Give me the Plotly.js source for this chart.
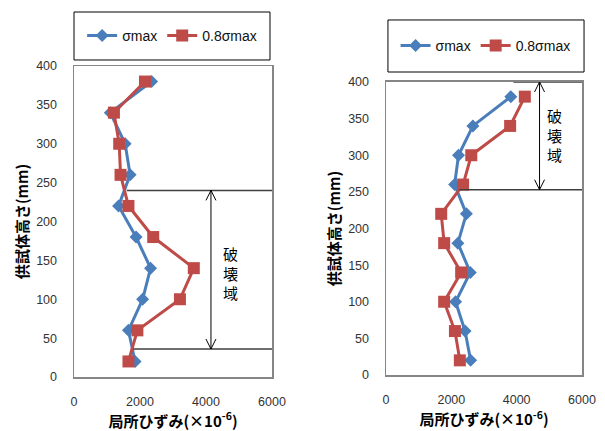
<!DOCTYPE html>
<html><head><meta charset="utf-8">
<script src="https://cdn.plot.ly/plotly-3.0.1.min.js"></script>
<style>html,body{margin:0;padding:0;background:#fff}</style>
</head><body><div id="chart" style="width:605px;height:431px"></div>
<script>
// ---- data ----
const heights = [20, 60, 100, 140, 180, 220, 260, 300, 340, 380];
const leftSigmaMax  = [1850, 1650, 2080, 2320, 1880, 1350, 1700, 1550, 1100, 2350];
const leftSigma08   = [1650, 1920, 3210, 3630, 2400, 1650, 1410, 1370, 1210, 2150];
const rightSigmaMax = [2590, 2420, 2130, 2580, 2200, 2460, 2100, 2220, 2660, 3820];
const rightSigma08  = [2260, 2110, 1780, 2300, 1780, 1690, 2360, 2610, 3800, 4250];
const seriesNames = ['σmax', '0.8σmax'];
const xTicks = [0, 2000, 4000, 6000];
const yTicks = [0, 50, 100, 150, 200, 250, 300, 350, 400];
const zoneLabel = '破壊域';
// failure zone markers (data units)
const leftZone  = {top: 240, bottom: 36,  topStart: 1600, bottomStart: 1800, arrowX: 4150, labelX: 4730, labelY: 134};
const rightZone = {top: 400, bottom: 253, topStart: 3900, bottomStart: 2250, arrowX: 4700, labelX: 5150, labelY: 327};

const BLUE = '#4a7ebb', RED = '#be4b48';
const tickFont = {family: 'Liberation Sans, Arial, sans-serif', size: 12.5, color: '#333'};
const titleFont = {family: 'Noto Sans CJK JP, sans-serif', size: 15, color: '#000', weight: 'bold'};
const xTitle = '局所ひずみ(×10<sup>-6</sup>)';
const yTitle = '供試体高さ(mm)';

function mk(x, name, color, sym, size, xa, ya, leg) {
  return {x: x, y: heights, name: name, type: 'scatter', mode: 'lines+markers',
    xaxis: xa, yaxis: ya, legend: leg,
    line: {color: color, width: 3}, marker: {symbol: sym, size: size, color: color}};
}
const data = [
  mk(leftSigmaMax, seriesNames[0], BLUE, 'diamond', 10, 'x', 'y', 'legend'),
  mk(leftSigma08, seriesNames[1], RED, 'square', 12, 'x', 'y', 'legend'),
  mk(rightSigmaMax, seriesNames[0], BLUE, 'diamond', 10, 'x2', 'y2', 'legend2'),
  mk(rightSigma08, seriesNames[1], RED, 'square', 12, 'x2', 'y2', 'legend2')
];

function xax(domain, anchor) {
  return {domain: domain, anchor: anchor, range: [0, 6000], tickvals: xTicks, ticks: '',
    showgrid: false, zeroline: false, showline: true, mirror: true, linecolor: '#868686', linewidth: 1.5,
    tickfont: tickFont, ticklabelstandoff: 12,
    title: {text: xTitle, font: titleFont, standoff: 8}};
}
function yax(domain, anchor) {
  return {domain: domain, anchor: anchor, range: [0, 400], tickvals: yTicks, ticks: '',
    showgrid: false, zeroline: false, showline: true, mirror: true, linecolor: '#868686', linewidth: 1.5,
    tickfont: tickFont, ticklabelstandoff: 13,
    title: {text: yTitle, font: titleFont, standoff: 4}};
}

function zoneShapes(z, xr, yr) {
  const lc = '#3f3f3f';
  const s = [];
  s.push({type: 'line', xref: xr, yref: yr, x0: z.topStart, x1: 6000, y0: z.top, y1: z.top, line: {color: lc, width: 1.5}});
  s.push({type: 'line', xref: xr, yref: yr, x0: z.bottomStart, x1: 6000, y0: z.bottom, y1: z.bottom, line: {color: lc, width: 1.5}});
  s.push({type: 'line', xref: xr, yref: yr, x0: z.arrowX, x1: z.arrowX, y0: z.bottom, y1: z.top, line: {color: '#000', width: 1}});
  [[z.top, -1], [z.bottom, 1]].forEach(function(p) {
    [-5, 5].forEach(function(dx) {
      s.push({type: 'line', xref: xr, yref: yr, xsizemode: 'pixel', ysizemode: 'pixel',
        xanchor: z.arrowX, yanchor: p[0], x0: dx, x1: 0, y0: p[1] * 10, y1: 0, line: {color: '#000', width: 1}});
    });
  });
  return s;
}

const shapes = [].concat(
  zoneShapes(leftZone, 'x', 'y'),
  zoneShapes(rightZone, 'x2', 'y2'),
  [
    {type: 'rect', xref: 'paper', yref: 'paper', x0: 0, x1: 0.3858, y0: 1.0193, y1: 1.1736, line: {color: '#000', width: 1}},
    {type: 'rect', xref: 'paper', yref: 'paper', x0: 0.618, x1: 1.004, y0: 0.9807, y1: 1.148, line: {color: '#000', width: 1}}
  ]
);

const annFont = {family: 'Noto Sans CJK JP, sans-serif', size: 15, color: '#000'};
const annotations = [
  {xref: 'x', yref: 'y', x: leftZone.labelX, y: leftZone.labelY, text: zoneLabel.split('').join('<br>'), showarrow: false, font: annFont},
  {xref: 'x2', yref: 'y2', x: rightZone.labelX, y: rightZone.labelY, text: zoneLabel.split('').join('<br>'), showarrow: false, font: annFont}
];

const legFont = {family: 'Liberation Sans, Arial, sans-serif', size: 14, color: '#111'};
const layout = {
  width: 605, height: 431,
  margin: {l: 74, r: 23, t: 66, b: 54},
  paper_bgcolor: '#fff', plot_bgcolor: '#fff',
  xaxis: xax([0, 0.3898], 'y'),
  yaxis: yax([0, 1], 'x'),
  xaxis2: xax([0.6142, 1], 'y2'),
  yaxis2: yax([0.0064, 0.9486], 'x2'),
  legend: {orientation: 'h', x: 0.016, y: 1.0965, xanchor: 'left', yanchor: 'middle', font: legFont, bgcolor: 'rgba(0,0,0,0)', itemwidth: 30},
  legend2: {orientation: 'h', x: 0.633, y: 1.0643, xanchor: 'left', yanchor: 'middle', font: legFont, bgcolor: 'rgba(0,0,0,0)', itemwidth: 30},
  showlegend: true,
  shapes: shapes,
  annotations: annotations
};
Plotly.newPlot('chart', data, layout, {displayModeBar: false, staticPlot: true});
</script>
</body></html>
